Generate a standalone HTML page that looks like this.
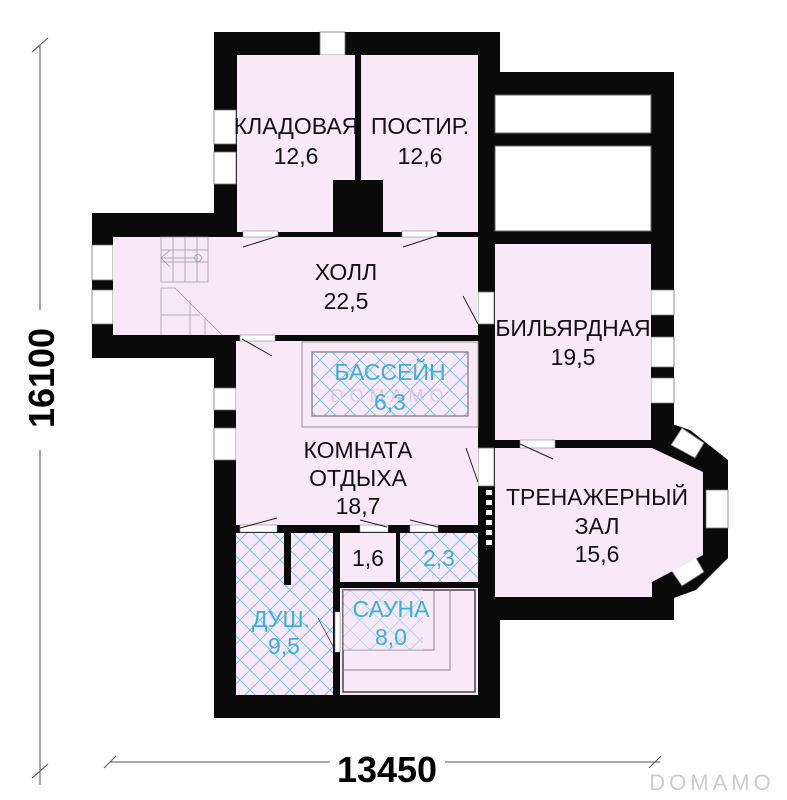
<!DOCTYPE html>
<html><head><meta charset="utf-8"><style>
html,body{margin:0;padding:0;background:#fff;width:787px;height:800px;overflow:hidden}
svg text{font-family:"Liberation Sans",sans-serif}
</style></head><body>
<svg width="787" height="800" viewBox="0 0 787 800" xmlns="http://www.w3.org/2000/svg">
<defs>
<pattern id="h" width="20" height="20" patternUnits="userSpaceOnUse">
<rect width="20" height="20" fill="#f8e8f8"/>
<path d="M0 0L20 20M20 0L0 20" stroke="#5bbfe6" stroke-width="0.8"/>
</pattern>
</defs>
<g stroke="#555" stroke-width="1">
<line x1="40" y1="45" x2="40" y2="310"/><line x1="40" y1="450" x2="40" y2="785"/>
<line x1="32" y1="52" x2="48" y2="38"/><line x1="32" y1="778" x2="48" y2="764"/>
<line x1="110" y1="762" x2="330" y2="762"/><line x1="445" y1="762" x2="660" y2="762"/>
<line x1="104" y1="768" x2="116" y2="756"/><line x1="649" y1="768" x2="661" y2="756"/>
</g>
<text x="0" y="0" transform="translate(54,378) rotate(-90)" font-size="36" font-weight="bold" text-anchor="middle">16100</text>
<text x="387" y="782" font-size="36" font-weight="bold" text-anchor="middle">13450</text>
<text x="712" y="790" font-size="22" fill="#ccc" text-anchor="middle" letter-spacing="4">DOMAMO</text>
<g fill="#0a0a0a">
<rect x="214" y="32" width="286" height="686"/>
<rect x="92" y="213" width="144" height="145"/>
<rect x="478" y="72" width="196" height="548"/>
<polygon points="660,420 690,430 728,460 728,558 696,590 668,600"/>
</g>
<rect x="495" y="95" width="156" height="38" fill="#fff" stroke="#666"/>
<rect x="495" y="146" width="156" height="85" fill="#fff" stroke="#666"/>
<g fill="#fff" stroke="#777" stroke-width="0.8">
<rect x="320" y="32" width="25" height="23"/>
<rect x="214" y="110" width="22" height="34"/><rect x="214" y="152" width="22" height="32"/>
<rect x="92" y="245" width="21" height="35"/><rect x="92" y="290" width="21" height="34"/>
<rect x="214" y="388" width="22" height="22"/><rect x="214" y="428" width="22" height="32"/>
<rect x="651" y="290" width="23" height="25"/><rect x="651" y="337" width="23" height="30"/><rect x="651" y="378" width="23" height="25"/>
<rect x="706" y="490" width="22" height="38"/>
<rect x="478" y="292" width="16" height="32"/><rect x="478" y="448" width="16" height="38"/>
<polygon points="671,445 682,428 704,443 695,458"/>
<polygon points="671,570 695,556 704,572 682,586"/>
</g>
<g fill="#fff"><rect x="486" y="490" width="6" height="5"/><rect x="486" y="500" width="6" height="5"/><rect x="486" y="510" width="6" height="5"/><rect x="486" y="520" width="6" height="5"/><rect x="486" y="530" width="6" height="5"/><rect x="486" y="540" width="6" height="5"/></g>
<g fill="#f8e8f8">
<rect x="237" y="55" width="118" height="177"/>
<rect x="361" y="55" width="117" height="177"/>
<rect x="113" y="237" width="365" height="98"/>
<rect x="236" y="341" width="242" height="184"/>
<rect x="495" y="244" width="156" height="196"/>
<polygon points="495,448 652,448 703,472 703,555 652,582 652,597 495,597"/>
<rect x="340" y="533" width="56" height="49"/>
<rect x="340" y="588" width="138" height="107"/>
</g>
<rect x="333" y="180" width="50" height="52" fill="#0a0a0a"/>
<rect x="236" y="533" width="97" height="162" fill="url(#h)"/>
<rect x="284" y="533" width="7" height="52" fill="#0a0a0a"/>
<rect x="400" y="533" width="78" height="49" fill="url(#h)"/>
<rect x="302" y="342" width="176" height="85" fill="none" stroke="#999"/>
<rect x="312" y="352" width="156" height="64" fill="url(#h)" stroke="#666"/>
<text x="390" y="402" font-size="18" fill="#e0c8e0" text-anchor="middle" letter-spacing="6">DOMAMO</text>
<rect x="343" y="590" width="132" height="102" fill="none" stroke="#444" stroke-width="1.5"/>
<polyline points="343,650 434,650 434,590" fill="none" stroke="#888"/>
<polyline points="343,670 450,670 450,590" fill="none" stroke="#888"/>
<rect x="343" y="590" width="80" height="60" fill="url(#h)" opacity="0.5"/>
<g fill="#fff" stroke="#888" stroke-width="0.6">
<rect x="243" y="231" width="35" height="6"/><rect x="402" y="231" width="35" height="6"/>
<rect x="240" y="335" width="35" height="6"/><rect x="520" y="440" width="35" height="8"/>
<rect x="240" y="525" width="37" height="7"/><rect x="360" y="525" width="28" height="7"/><rect x="410" y="525" width="28" height="7"/>
<rect x="335" y="612" width="5" height="40"/>
</g>
<g stroke="#222" stroke-width="1">
<line x1="243" y1="247" x2="278" y2="236"/><line x1="403" y1="247" x2="437" y2="236"/>
<line x1="463" y1="296" x2="478" y2="324"/><line x1="242" y1="339" x2="272" y2="356"/>
<line x1="466" y1="448" x2="478" y2="482"/><line x1="520" y1="444" x2="553" y2="459"/>
<line x1="240" y1="528" x2="277" y2="518"/><line x1="360" y1="520" x2="387" y2="527"/><line x1="410" y1="520" x2="438" y2="527"/>
<line x1="318" y1="618" x2="335" y2="650" stroke-width="0.6"/>
</g>
<g stroke="#999" stroke-width="0.7" fill="none">
<rect x="161" y="237" width="47" height="45"/><line x1="161" y1="250" x2="208" y2="250"/><line x1="161" y1="262" x2="208" y2="262"/>
<line x1="173" y1="237" x2="173" y2="282"/><line x1="185" y1="237" x2="185" y2="282"/><line x1="197" y1="237" x2="197" y2="282"/>
<line x1="161" y1="258" x2="198" y2="258"/><polyline points="170,250 161,258 170,267"/><circle cx="198" cy="258" r="3.5"/>
<line x1="161" y1="288" x2="161" y2="335"/><line x1="161" y1="288" x2="175" y2="288"/><line x1="175" y1="288" x2="222" y2="335"/>
<line x1="161" y1="315" x2="200" y2="315"/><line x1="190" y1="300" x2="190" y2="335"/><line x1="205" y1="318" x2="205" y2="335"/>
</g>
<g font-size="23" text-anchor="middle" fill="#111">
<text x="296" y="134">КЛАДОВАЯ</text><text x="296" y="164">12,6</text>
<text x="420" y="134">ПОСТИР.</text><text x="420" y="164">12,6</text>
<text x="346" y="280">ХОЛЛ</text><text x="346" y="309">22,5</text>
<text x="573" y="336">БИЛЬЯРДНАЯ</text><text x="573" y="365">19,5</text>
<text x="358" y="458">КОМНАТА</text><text x="358" y="486">ОТДЫХА</text><text x="358" y="514">18,7</text>
<text x="597" y="505">ТРЕНАЖЕРНЫЙ</text><text x="597" y="534">ЗАЛ</text><text x="597" y="562">15,6</text>
<text x="368" y="566">1,6</text>
</g>
<g font-size="23" text-anchor="middle" fill="#3bb0de">
<text x="390" y="380">БАССЕЙН</text><text x="390" y="410">6,3</text>
<text x="439" y="566">2,3</text>
<text x="281" y="627">ДУШ.</text><text x="284" y="654">9,5</text>
<text x="391" y="617">САУНА</text><text x="391" y="645">8,0</text>
</g>
</svg>
</body></html>
